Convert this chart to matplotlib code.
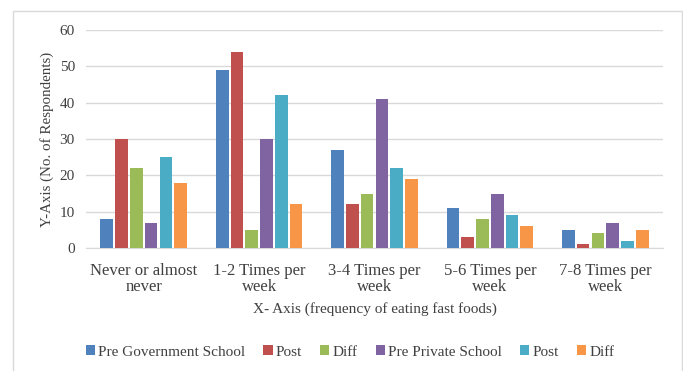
import matplotlib
matplotlib.use('Agg')
import matplotlib.pyplot as plt
import numpy as np
from matplotlib.patches import Rectangle

plt.rcParams['font.family'] = ['Liberation Serif', 'DejaVu Serif']

categories = ['Never or almost\nnever', '1-2 Times per\nweek', '3-4 Times per\nweek',
              '5-6 Times per\nweek', '7-8 Times per\nweek']
series_names = ['Pre Government School', 'Post', 'Diff', 'Pre Private School', 'Post', 'Diff']
pre_gov = [8, 49, 27, 11, 5]
post_gov = [30, 54, 12, 3, 1]
diff_gov = [22, 5, 15, 8, 4]
pre_priv = [7, 30, 41, 15, 7]
post_priv = [25, 42, 22, 9, 2]
diff_priv = [18, 12, 19, 6, 5]
colors = ['#4F81BD', '#C0504D', '#9BBB59', '#8064A2', '#4BACC6', '#F79646']

W, H = 683, 371
fig = plt.figure(figsize=(W / 100, H / 100), dpi=100)
# outer chart border
fig.patches.append(Rectangle((13 / W, -0.1), 669 / W, 1.1 - 11 / H, transform=fig.transFigure,
                             fill=False, edgecolor='#D9D9D9', linewidth=1))

ax = fig.add_axes([86 / W, 1 - 248 / H, (663 - 86) / W, (248 - 30) / H])

x = np.arange(len(categories))
step = 0.128
bw = 0.11
all_series = [pre_gov, post_gov, diff_gov, pre_priv, post_priv, diff_priv]
for i, vals in enumerate(all_series):
    ax.bar(x + (i - 2.5) * step, vals, width=bw, color=colors[i], label=series_names[i], zorder=3)

ax.set_xlim(-0.5, len(categories) - 0.5)
ax.set_ylim(0, 60)
ax.set_yticks(range(0, 61, 10))
ax.yaxis.grid(True, color='#D9D9D9', linewidth=1, zorder=0)
for s in ['top', 'right', 'left']:
    ax.spines[s].set_visible(False)
ax.spines['bottom'].set_color('#D9D9D9')
ax.tick_params(axis='both', length=0, labelcolor='#404040')
ax.tick_params(axis='y', pad=8, labelsize=11)
ax.tick_params(axis='x', pad=11, labelsize=12)
ax.set_xticks(x)
ax.set_xticklabels(categories, linespacing=0.95)
ax.set_ylabel('Y-Axis (No. of Respondents)', fontsize=10.8, color='#404040', labelpad=4)
ax.set_xlabel('X- Axis (frequency of eating fast foods)', fontsize=11, color='#404040', labelpad=5)

fig.legend(loc='center', bbox_to_anchor=(350 / W, 1 - 352 / H), ncol=6, frameon=False,
           fontsize=11, handlelength=0.6, handleheight=0.6, handletextpad=0.2,
           columnspacing=1.2, labelcolor='#404040')

fig.savefig('out.png', dpi=100)
